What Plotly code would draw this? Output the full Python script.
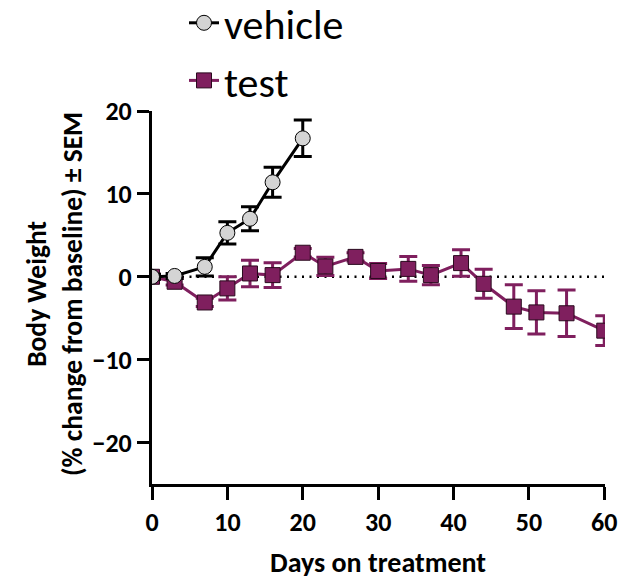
import plotly.graph_objects as go

vehicle_days = [0, 3, 7, 10, 13, 16, 20]
vehicle_mean = [0.0, 0.1, 1.2, 5.3, 7.0, 11.4, 16.7]
vehicle_sem = [0.3, 0.3, 1.1, 1.35, 1.45, 1.8, 2.2]

test_days = [0, 3, 7, 10, 13, 16, 20, 23, 27, 30, 34, 37, 41, 44, 48, 51, 55, 60]
test_mean = [0.0, -0.6, -3.1, -1.4, 0.4, 0.2, 2.9, 1.25, 2.4, 0.7, 0.95, 0.2, 1.65, -0.85, -3.6, -4.3, -4.4, -6.5]
test_sem = [0.3, 0.4, 0.5, 1.4, 1.6, 1.5, 0.5, 1.1, 0.5, 0.9, 1.5, 1.15, 1.6, 1.75, 2.65, 2.6, 2.8, 1.8]

x_ticks = [0, 10, 20, 30, 40, 50, 60]
y_ticks = [-20, -10, 0, 10, 20]

x_title = "<b>Days on treatment</b>"
y_title = "<b>Body Weight<br>(% change from baseline) ± SEM</b>"

PURPLE = "#7f1f5e"
FONT = "Carlito, Lato, sans-serif"

W, H = 621, 582
PL, PR, PT, PB = 152, 605, 111, 484  # plot-area edges in window pixels


def px_x(sx):
    return (sx - PL) / (PR - PL)


def px_y(sy):
    return (PB - sy) / (PB - PT)


fig = go.Figure()

fig.add_trace(go.Scatter(
    x=test_days, y=test_mean, name="test", mode="lines+markers",
    line=dict(color=PURPLE, width=3),
    marker=dict(symbol="square", size=15, color=PURPLE, line=dict(color="#2a0a1e", width=1)),
    error_y=dict(type="data", array=test_sem, color=PURPLE, thickness=3, width=9),
    legendrank=2,
))
fig.add_trace(go.Scatter(
    x=vehicle_days, y=vehicle_mean, name="vehicle", mode="lines+markers",
    line=dict(color="black", width=3),
    marker=dict(symbol="circle", size=15, color="#d4d4d4", line=dict(color="black", width=1)),
    error_y=dict(type="data", array=vehicle_sem, color="black", thickness=3, width=9),
    legendrank=1,
))

fig.add_shape(type="line", xref="x", yref="y", x0=0, x1=60, y0=0, y1=0,
              line=dict(color="black", width=2.5, dash="2px,5.5px"), layer="below")

fig.add_annotation(text=y_title, xref="paper", yref="paper", x=px_x(54), y=px_y(294),
                   xanchor="center", yanchor="middle", textangle=-90, showarrow=False,
                   font=dict(size=27.5, family=FONT, color="black"))
fig.add_annotation(text=x_title, xref="paper", yref="paper", x=px_x(378), y=px_y(582),
                   xanchor="center", yanchor="bottom", showarrow=False,
                   font=dict(size=28, family=FONT, color="black"))

fig.update_layout(
    width=W, height=H,
    margin=dict(l=PL, r=W - PR, t=PT, b=H - PB, autoexpand=False),
    plot_bgcolor="white", paper_bgcolor="white",
    font=dict(family=FONT, color="black"),
    showlegend=True,
    legend=dict(x=184 / W, y=1 - 52 / H, xanchor="left", yanchor="middle",
                xref="container", yref="container",
                font=dict(size=42, family=FONT), itemwidth=30,
                bgcolor="rgba(0,0,0,0)", borderwidth=0),
    xaxis=dict(range=[0, 60.1], tickvals=x_ticks, showline=True, linecolor="black", linewidth=3,
               ticks="outside", ticklen=13, tickwidth=3, tickcolor="black",
               showgrid=False, zeroline=False, automargin=False,
               tickfont=dict(size=26, family=FONT, weight="bold")),
    yaxis=dict(range=[-25, 20], tickvals=y_ticks, showline=True, linecolor="black", linewidth=3,
               ticks="outside", ticklen=12, tickwidth=3, tickcolor="black",
               showgrid=False, zeroline=False, automargin=False,
               tickfont=dict(size=26, family=FONT, weight="bold")),
)

fig.write_html(
    "out.html",
    config={"displayModeBar": False},
    post_script="document.body.style.margin='0';document.body.style.overflow='hidden';",
)
